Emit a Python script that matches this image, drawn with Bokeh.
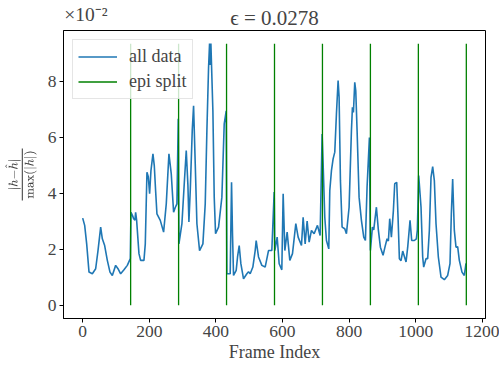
from bokeh.plotting import figure
from bokeh.models import Range1d, Legend, LegendItem, FixedTicker, LinearAxis, PrintfTickFormatter
from bokeh.embed import file_html
from bokeh.resources import INLINE

# ---- data (error values in units of 1e-2) ----
frame_idx = [0, 6, 12, 19, 29, 39, 46, 54, 59, 66, 74, 82, 89, 99, 106, 114, 124, 134, 143,
             145, 150, 153, 157, 159, 162, 169, 174, 184, 188, 193, 197, 201, 205, 211, 215, 219, 223, 233, 243, 251, 259, 266, 273, 278, 283, 287,
             289, 298, 305, 311, 316, 319, 323, 329, 333, 338, 343, 351, 361, 368, 373, 378, 381, 383, 385, 391, 395, 399, 408, 418, 425, 431,
             433, 443, 447, 450, 453, 461, 465, 470, 475, 483, 493, 498, 503, 511, 518, 521, 528, 538, 548, 558, 568, 575,
             577, 584, 590, 598, 602, 607, 614, 622, 630, 640, 647, 657, 662, 668, 674, 680, 687, 695, 705, 713, 719,
             722, 727, 732, 739, 742, 747, 752, 757, 762, 767, 770, 774, 779, 787, 792, 800, 807, 810, 813, 817, 820, 824, 830, 837, 844, 849, 854, 861,
             864, 870, 874, 882, 888, 894, 902, 908, 914, 918, 922, 927, 933, 937, 943, 947, 951, 956, 961, 966, 971, 976, 983, 988, 996, 1002, 1005,
             1009, 1013, 1016, 1021, 1024, 1031, 1036, 1041, 1046, 1051, 1056, 1061, 1068, 1076, 1086, 1096, 1103, 1107, 1111, 1116, 1121, 1126, 1131, 1139, 1146, 1151]
rel_error = [3.12, 2.86, 2.2, 1.19, 1.13, 1.31, 1.96, 2.8, 2.38, 2.14, 1.61, 1.19, 1.07, 1.43, 1.31, 1.13, 1.27, 1.43, 1.67,
             3.33, 3.2, 3.1, 3.05, 3.33, 3.04, 1.85, 1.61, 1.61, 2.2, 4.76, 4.6, 3.99, 4.82, 5.42, 5.0, 4.1, 3.27, 3.04, 2.62, 3.63, 5.42, 4.7, 3.33, 3.5, 3.63, 6.67,
             2.2, 2.92, 4.35, 5.54, 4.3, 2.98, 4.1, 6.25, 7.14, 5.06, 2.92, 1.96, 2.2, 3.63, 6.25, 8.51, 9.36, 8.6, 9.36, 6.96, 3.87, 2.56, 2.8, 3.87, 6.49, 6.96,
             1.13, 1.13, 4.4, 2.5, 1.07, 1.25, 1.73, 2.14, 1.49, 0.95, 1.13, 1.2, 1.13, 1.37, 1.96, 2.32, 1.73, 1.43, 1.37, 1.96, 1.96, 4.05,
             1.96, 2.44, 1.49, 1.27, 3.99, 1.96, 2.62, 1.61, 1.85, 2.92, 2.44, 2.14, 3.15, 2.2, 3.01, 2.26, 2.68, 2.56, 2.86, 2.5, 6.13,
             5.06, 3.15, 2.32, 2.02, 4.1, 4.82, 5.24, 5.48, 6.85, 8.04, 7.44, 4.46, 2.8, 2.74, 2.56, 3.51, 6.25, 7.08, 6.9, 7.98, 7.68, 6.25, 3.87, 3.04, 2.44, 2.32, 4.23, 6.0,
             1.96, 2.8, 2.7, 3.51, 2.68, 2.08, 1.79, 2.1, 2.38, 2.3, 3.1, 2.44, 3.39, 4.35, 4.4, 3.15, 1.67, 1.6, 1.94, 1.75, 1.55, 2.08, 3.04, 2.32, 2.32, 2.38, 2.7,
             4.64, 4.0, 3.51, 1.73, 1.37, 1.67, 1.67, 2.68, 4.58, 4.96, 4.46, 2.92, 1.73, 1.01, 0.92, 1.07, 1.49, 3.27, 4.52, 2.68, 2.08, 2.1, 1.61, 1.19, 1.07, 1.5]
epi_splits = [144, 288, 432, 576, 720, 864, 1008, 1152]
x_ticks = [0, 200, 400, 600, 800, 1000, 1200]
y_ticks = [0, 2, 4, 6, 8]
title_text = "\u03f5 = 0.0278"
offset_text = "\u00d710\u207b\u00b2"

FONT = "Liberation Serif"
X_MIN, X_MAX = -57.6, 1209.6
Y_MIN, Y_MAX = -0.47, 9.83
OFFSET_POS = 10  # x position where the y-axis scale text is centred

p = figure(width=499, height=369, output_backend="svg", toolbar_location=None, title=None,
           x_range=Range1d(X_MIN, X_MAX), y_range=Range1d(Y_MIN, Y_MAX),
           min_border_left=63, min_border_right=14, min_border_top=30, min_border_bottom=51)
p.background_fill_color = "white"
p.border_fill_color = "white"
p.outline_line_color = "black"
p.outline_line_width = 1
p.xgrid.visible = False
p.ygrid.visible = False

line_r = p.line(frame_idx, rel_error, line_color="#1f77b4", line_width=1.6)
top = max(rel_error)
seg_r = p.segment(x0=epi_splits, y0=[0] * len(epi_splits), x1=epi_splits,
                  y1=[top] * len(epi_splits), line_color="green", line_width=1.3)

for ax in (p.xaxis[0], p.yaxis[0]):
    ax.major_label_text_font = FONT
    ax.major_label_text_font_size = "17.5px"
    ax.axis_label_text_font = FONT
    ax.axis_label_text_font_size = "18px"
    ax.axis_label_text_font_style = "normal"
    ax.minor_tick_line_color = None
    ax.major_tick_out = 4
    ax.major_tick_in = 0
    ax.major_label_standoff = 3
    ax.axis_line_color = "black"

p.xaxis[0].ticker = FixedTicker(ticks=x_ticks)
p.yaxis[0].ticker = FixedTicker(ticks=y_ticks)
p.xaxis[0].axis_label = "Frame Index"
p.xaxis[0].axis_label_standoff = 2
p.yaxis[0].axis_label = r"\(\frac{|h-\hat{h}|}{\max(|h|)}\)"
p.yaxis[0].axis_label_text_font_size = "17px"
p.yaxis[0].axis_label_standoff = 8
p.yaxis[0].major_label_orientation = "horizontal"

# top strip: scale factor text (as a tick label) and the title (as the axis label, same row)
top_axis = LinearAxis(ticker=FixedTicker(ticks=[OFFSET_POS]),
                      formatter=PrintfTickFormatter(format=offset_text))
top_axis.axis_line_color = None
top_axis.major_tick_line_color = None
top_axis.minor_tick_line_color = None
top_axis.major_tick_out = 0
top_axis.major_tick_in = 0
top_axis.major_label_standoff = 6
top_axis.major_label_text_font = FONT
top_axis.major_label_text_font_size = "19.5px"
top_axis.axis_label = title_text
top_axis.axis_label_text_font = FONT
top_axis.axis_label_text_font_size = "21px"
top_axis.axis_label_text_font_style = "normal"
top_axis.axis_label_standoff = -29
p.add_layout(top_axis, "above")

legend = Legend(items=[LegendItem(label="all data", renderers=[line_r]),
                       LegendItem(label="epi split", renderers=[seg_r])],
                location="top_left")
legend.label_text_font = FONT
legend.label_text_font_size = "18px"
legend.border_line_color = "#cccccc"
legend.background_fill_alpha = 0.8
legend.glyph_width = 39
legend.label_standoff = 12
legend.label_height = 23
legend.glyph_height = 23
legend.spacing = 2
legend.margin = 9
legend.padding = 5
p.add_layout(legend)

open("out.html", "w").write(file_html(p, INLINE))
